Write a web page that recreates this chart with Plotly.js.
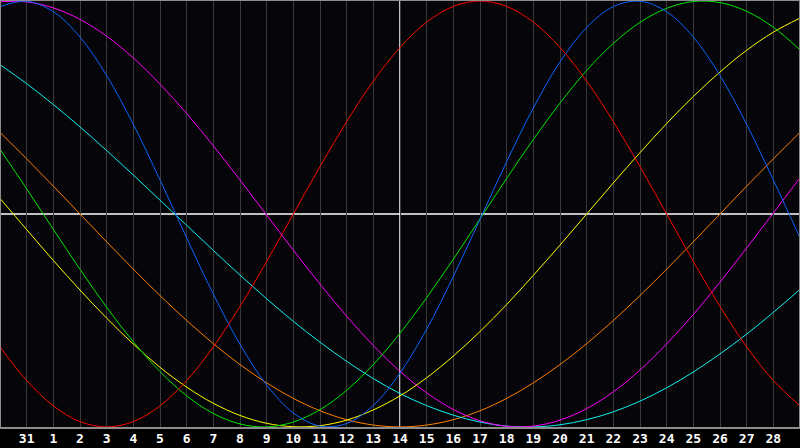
<!DOCTYPE html>
<html>
<head>
<meta charset="utf-8">
<script src="https://cdn.plot.ly/plotly-3.0.1.min.js"></script>
<style>
html,body{margin:0;padding:0;background:#000;}
#chart{width:800px;height:448px;}
</style>
</head>
<body>
<div id="chart"></div>
<script>
// Day positions (0 = Jan 30 ... 30 = Mar 1)
const days = [0,1,2,3,4,5,6,7,8,9,10,11,12,13,14,15,16,17,18,19,20,21,22,23,24,25,26,27,28,29,30];
const tickPositions = [1,2,3,4,5,6,7,8,9,10,11,12,13,14,15,16,17,18,19,20,21,22,23,24,25,26,27,28,29];
const tickLabels = ["31","1","2","3","4","5","6","7","8","9","10","11","12","13","14","15","16","17","18","19","20","21","22","23","24","25","26","27","28"];
const todayPos = 15;

const redSeries = [-0.624,-0.782,-0.901,-0.975,-1.000,-0.975,-0.901,-0.782,-0.624,-0.434,-0.223,0.000,0.223,0.434,0.624,0.782,0.901,0.975,1.000,0.975,0.901,0.782,0.624,0.434,0.223,0.000,-0.223,-0.434,-0.624,-0.782,-0.901];
const blueSeries = [0.974,0.999,0.950,0.831,0.650,0.421,0.160,-0.112,-0.376,-0.612,-0.803,-0.934,-0.996,-0.984,-0.899,-0.747,-0.541,-0.293,-0.025,0.246,0.498,0.714,0.876,0.974,0.999,0.950,0.831,0.650,0.421,0.160,-0.112];
const greenSeries = [0.304,0.118,-0.072,-0.260,-0.438,-0.600,-0.740,-0.854,-0.937,-0.986,-1.000,-0.977,-0.919,-0.828,-0.707,-0.560,-0.393,-0.212,-0.023,0.167,0.350,0.521,0.674,0.801,0.900,0.966,0.998,0.993,0.952,0.877,0.771];
const yellowSeries = [0.073,-0.073,-0.218,-0.357,-0.489,-0.611,-0.720,-0.813,-0.889,-0.946,-0.983,-0.999,-0.994,-0.968,-0.920,-0.854,-0.769,-0.667,-0.552,-0.425,-0.288,-0.146,0.000,0.146,0.288,0.425,0.552,0.667,0.769,0.854,0.920];
const magentaSeries = [0.997,0.996,0.968,0.914,0.835,0.733,0.610,0.472,0.320,0.160,-0.005,-0.170,-0.329,-0.480,-0.618,-0.739,-0.840,-0.918,-0.971,-0.997,-0.996,-0.968,-0.914,-0.835,-0.733,-0.610,-0.472,-0.320,-0.160,0.005,0.170];
const cyanSeries = [0.701,0.612,0.514,0.409,0.298,0.183,0.065,-0.053,-0.171,-0.287,-0.398,-0.504,-0.602,-0.692,-0.773,-0.843,-0.900,-0.945,-0.977,-0.996,-1.000,-0.990,-0.966,-0.929,-0.879,-0.816,-0.742,-0.657,-0.564,-0.462,-0.354];
const orangeSeries = [0.383,0.259,0.131,0.000,-0.131,-0.259,-0.383,-0.500,-0.609,-0.707,-0.793,-0.866,-0.924,-0.966,-0.991,-1.000,-0.991,-0.966,-0.924,-0.866,-0.793,-0.707,-0.609,-0.500,-0.383,-0.259,-0.131,0.000,0.131,0.259,0.383];

function line(y, color){
  return {x: days, y: y, type:'scatter', mode:'lines',
    line:{color: color, width:1, shape:'spline', smoothing:1},
    hoverinfo:'skip', showlegend:false};
}

const data = [
  line(orangeSeries,'#ff8000'),
  line(cyanSeries,'#10f0f0'),
  line(magentaSeries,'#ff00ff'),
  line(yellowSeries,'#ffff00'),
  line(greenSeries,'#00e800'),
  line(blueSeries,'#0a64ff'),
  line(redSeries,'#ff0000')
];

const layout = {
  width:800, height:448,
  margin:{l:0,r:0,t:0,b:20,pad:0},
  paper_bgcolor:'#000000',
  plot_bgcolor:'#060509',
  showlegend:false,
  xaxis:{
    range:[0,30], fixedrange:true,
    tickmode:'array', tickvals:tickPositions, ticktext:tickLabels,
    showgrid:true, gridcolor:'#3a3a3a', gridwidth:1,
    zeroline:false, showline:false, ticks:'', ticklabelstandoff:1,
    tickfont:{family:'DejaVu Sans Mono', size:13, color:'#ffffff', weight:'bold'}
  },
  yaxis:{
    range:[-1.005,1.005], fixedrange:true,
    showgrid:false, zeroline:false, showticklabels:false, ticks:'', showline:false
  },
  shapes:[
    {type:'line', xref:'x', yref:'paper', x0:todayPos, x1:todayPos, y0:0, y1:1,
     line:{color:'#ffffff', width:1.5}, layer:'below'},
    {type:'line', xref:'paper', yref:'y', x0:0, x1:1, y0:0, y1:0,
     line:{color:'#ffffff', width:1.5}, layer:'below'},
    {type:'rect', xref:'paper', yref:'paper', x0:0, x1:1, y0:0, y1:1,
     line:{color:'#8c8c8c', width:2}, layer:'above'}
  ]
};

Plotly.newPlot('chart', data, layout, {staticPlot:true, displayModeBar:false});
</script>
</body>
</html>
